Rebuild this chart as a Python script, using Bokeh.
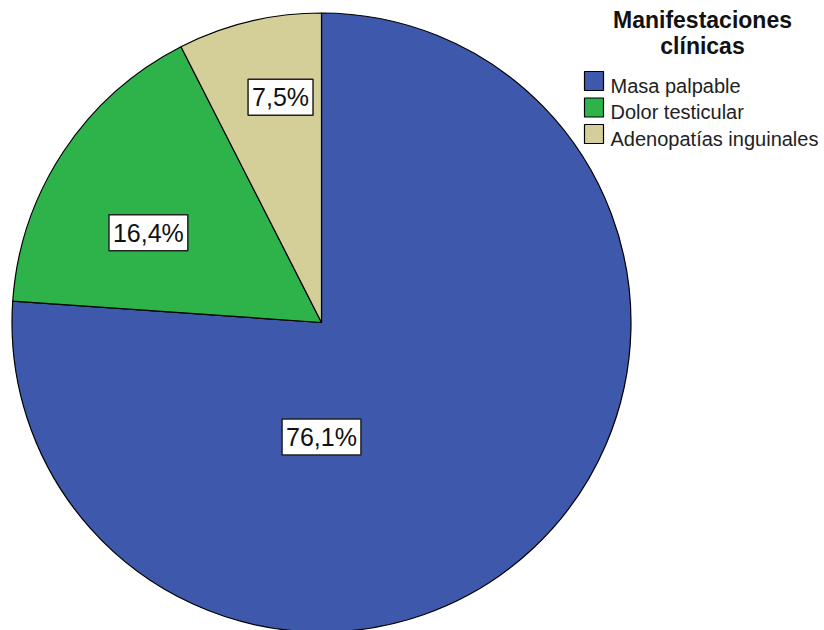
import math
from bokeh.plotting import figure
from bokeh.models import Range1d, ColumnDataSource
from bokeh.core.properties import value
from bokeh.embed import file_html
from bokeh.resources import INLINE

# ---- data ----
categories = ["Masa palpable", "Dolor testicular", "Adenopatías inguinales"]
percentages = [76.1, 16.4, 7.5]
pct_labels = ["76,1%", "16,4%", "7,5%"]
legend_title = ["Manifestaciones", "clínicas"]

# ---- style / layout ----
colors = ["#3E58AC", "#2DB34A", "#D4CF98"]
W, H = 824, 630
cx, cy_pix, R = 321, 322, 309.5
label_angle_deg = [180.0, 297.4, 349.7]   # clockwise from 12 o'clock
label_r_frac = [0.37, 0.63, 0.74]
FONT = "Liberation Sans"

def Y(py):
    return H - py

p = figure(width=W, height=H, x_range=Range1d(0, W), y_range=Range1d(0, H),
           output_backend="svg", toolbar_location=None, min_border=0)
p.axis.visible = False
p.grid.visible = False
p.outline_line_color = None
p.background_fill_color = "white"
p.border_fill_color = "white"

# wedges, starting at 12 o'clock going clockwise
total = sum(percentages)
starts, ends = [], []
acc = 0.0
for v in percentages:
    a0 = math.pi / 2 - 2 * math.pi * acc / total
    acc += v
    a1 = math.pi / 2 - 2 * math.pi * acc / total
    starts.append(a0)
    ends.append(a1)

src = ColumnDataSource(dict(x=[cx] * 3, y=[Y(cy_pix)] * 3, start=starts, end=ends,
                            color=colors, cat=categories))
p.wedge(x="x", y="y", radius=R, start_angle="start", end_angle="end",
        direction="clock", fill_color="color", line_color="black", line_width=1.2,
        source=src)

# percentage labels with boxes
lx, ly = [], []
for ang, fr in zip(label_angle_deg, label_r_frac):
    a = math.radians(ang)
    lx.append(cx + math.sin(a) * fr * R)
    ly.append(Y(cy_pix) + math.cos(a) * fr * R)
p.text(x=lx, y=ly, text=pct_labels, text_align="center", text_baseline="middle",
       text_font=value(FONT), text_font_size="25px", text_color="#111111",
       background_fill_color="white", border_line_color="#222222", border_line_width=1.5,
       padding=4)

# legend title
p.text(x=[702, 702], y=[Y(19), Y(45)], text=legend_title, text_align="center",
       text_baseline="alphabetic", text_font=value(FONT), text_font_size="23px",
       text_font_style="bold", text_color="#111111")

# legend items
sw_x, sw_y0, sw_size, row_h = 593.5, 80.5, 19, 26.5
sy = [Y(sw_y0 + i * row_h) for i in range(len(categories))]
p.rect(x=[sw_x] * 3, y=sy, width=sw_size, height=sw_size, fill_color=colors,
       line_color="black", line_width=1.2)
p.text(x=[610] * 3, y=[Y(85 + i * row_h) for i in range(3)], text=categories,
       text_align="left", text_baseline="alphabetic", text_font=value(FONT),
       text_font_size="20px", text_color="#222222")

open("out.html", "w").write(file_html(p, INLINE))
